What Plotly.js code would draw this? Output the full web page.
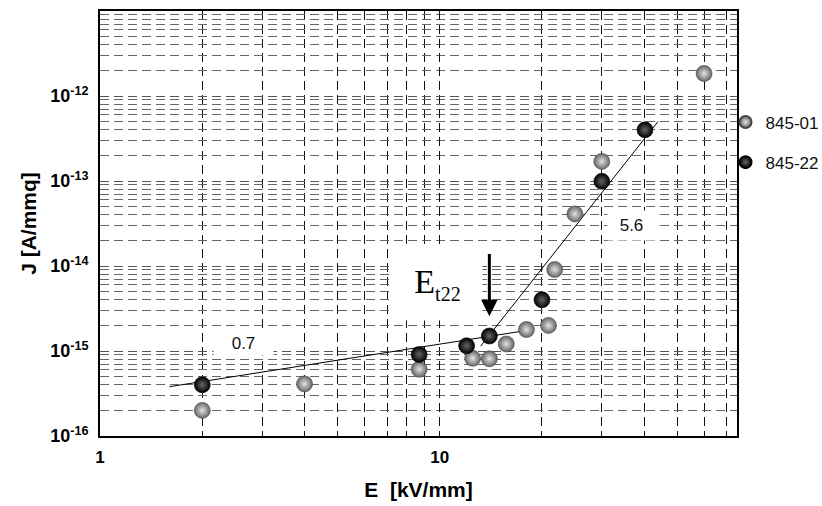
<!DOCTYPE html>
<html>
<head>
<meta charset="utf-8">
<script src="https://cdn.plot.ly/plotly-3.0.1.min.js"></script>
<style>html,body{margin:0;padding:0;background:#fff;}#chart{width:822px;height:506px;}</style>
</head>
<body>
<div id="chart"></div>
<script>
// Series 845-01 (gray spheres)
const e01 = [2, 4, 8.7, 12.5, 14.0, 15.7, 18.0, 20.9, 21.8, 25, 30, 60];
const j01 = [2.0e-16, 4.1e-16, 6.1e-16, 8.2e-16, 8.1e-16, 1.21e-15, 1.79e-15, 2.0e-15, 9.1e-15, 4.1e-14, 1.7e-13, 1.84e-12];
// Series 845-22 (black spheres)
const e22 = [2, 8.7, 12.0, 14.0, 20.0, 30, 40.2];
const j22 = [4.0e-16, 9.1e-16, 1.15e-15, 1.5e-15, 4.0e-15, 9.9e-14, 4.0e-13];
// Fitted lines (slopes 0.7 and 5.6)
const fitLowE = [1.6, 17.3];
const fitLowJ = [3.8e-16, 1.7e-15];
const fitHighE = [13.2, 43.9];
const fitHighJ = [1.14e-15, 5.0e-13];
// Tick labels
const xTickVals = [1, 10];
const xTickText = ['1', '10'];
const yTickVals = [1e-16, 1e-15, 1e-14, 1e-13, 1e-12];
const yTickText = ['10<sup>-16</sup>', '10<sup>-15</sup>', '10<sup>-14</sup>', '10<sup>-13</sup>', '10<sup>-12</sup>'];
// Annotation positions (data values)
const slopeLowLabel = {e: 2.65, j: 1.24e-15, text: '0.7'};
const slopeHighLabel = {e: 36.6, j: 3.0e-14, text: '5.6'};
const etLabel = {e: 9.86, j: 6.2e-15, text: 'E<sub><span style="font-size:20px">t22</span></sub>'};
const arrowE = 14.0, arrowTipJ = 2.56e-15, arrowTailJ = 1.44e-14;

const xMinor = [], yMinor = [];
[1, 10].forEach(d => { for (let k = 2; k <= 9; k++) xMinor.push(k * d); });
for (let p = -16; p <= -12; p++) { for (let k = 2; k <= 9; k++) yMinor.push(k * Math.pow(10, p)); }

const FONT = 'Liberation Sans, Arial, sans-serif';
const L = Math.log10;

const traces = [
  {x: fitLowE, y: fitLowJ, mode: 'lines', line: {color: '#000', width: 1}, showlegend: false, hoverinfo: 'skip'},
  {x: fitHighE, y: fitHighJ, mode: 'lines', line: {color: '#000', width: 1}, showlegend: false, hoverinfo: 'skip'},
  {x: e01, y: j01, mode: 'markers', name: '845-01', legendgroup: 'a',
   marker: {size: 16, color: '#666', gradient: {type: 'radial', color: '#e4e4e4'}, line: {color: '#444', width: 0.6}}},
  {x: e22, y: j22, mode: 'markers', name: '845-22', legendgroup: 'b',
   marker: {size: 16, color: '#000', gradient: {type: 'radial', color: '#666'}, line: {color: '#000', width: 0.6}}}
];

const layout = {
  width: 822, height: 506,
  margin: {l: 100, r: 85, t: 11, b: 70, autoexpand: false},
  paper_bgcolor: '#fff', plot_bgcolor: '#fff',
  font: {family: FONT, color: '#000'},
  showlegend: true,
  legend: {x: 0.982, xanchor: 'left', y: 0.78, yanchor: 'top', font: {size: 17, family: FONT, color: '#111'},
           itemsizing: 'constant', itemwidth: 30, tracegroupgap: 15, bgcolor: 'rgba(0,0,0,0)'},
  xaxis: {
    type: 'log', range: [0, L(75)],
    tickmode: 'array', tickvals: xTickVals, ticktext: xTickText,
    tickfont: {size: 17, family: FONT, weight: 'bold'}, ticks: '', ticklabelstandoff: 5,
    showgrid: true, gridcolor: '#111', gridwidth: 1, griddash: '9px,5px',
    minor: {tickmode: 'array', tickvals: xMinor, showgrid: true, gridcolor: '#111', gridwidth: 1, griddash: '9px,5px', ticks: ''},
    showline: true, linecolor: '#000', linewidth: 2, mirror: true, zeroline: false,
    title: {text: 'E  [kV/mm]', font: {size: 21, family: FONT, weight: 'bold'}, standoff: 16}
  },
  yaxis: {
    type: 'log', range: [-16, -11],
    tickmode: 'array', tickvals: yTickVals, ticktext: yTickText,
    tickfont: {size: 18, family: FONT, weight: 'bold'}, ticks: '', ticklabelstandoff: 6,
    showgrid: true, gridcolor: '#555', gridwidth: 1, griddash: '9px,5px',
    minor: {tickmode: 'array', tickvals: yMinor, showgrid: true, gridcolor: '#666', gridwidth: 1, griddash: '9px,5px', ticks: ''},
    showline: true, linecolor: '#000', linewidth: 2, mirror: true, zeroline: false,
    title: {text: 'J [A/mmq]', font: {size: 21, family: FONT, weight: 'bold'}, standoff: 8}
  },
  annotations: [
    {x: L(slopeLowLabel.e), y: L(slopeLowLabel.j), xref: 'x', yref: 'y', text: slopeLowLabel.text, showarrow: false,
     font: {size: 17, family: FONT, color: '#111'}, bgcolor: '#fff', width: 57, height: 22},
    {x: L(slopeHighLabel.e), y: L(slopeHighLabel.j), xref: 'x', yref: 'y', text: slopeHighLabel.text, showarrow: false,
     font: {size: 17, family: FONT, color: '#111'}, bgcolor: '#fff', width: 45, height: 27},
    {x: L(etLabel.e), y: L(etLabel.j), xref: 'x', yref: 'y', text: etLabel.text, showarrow: false,
     font: {size: 34, family: 'Liberation Serif, Times New Roman, serif', color: '#000'}, bgcolor: '#fff', width: 87, height: 70},
    {x: L(arrowE), y: L(arrowTipJ), ax: L(arrowE), ay: L(arrowTailJ), xref: 'x', yref: 'y', axref: 'x', ayref: 'y',
     text: '', showarrow: true, arrowhead: 2, arrowsize: 1.1, arrowwidth: 3, arrowcolor: '#000', standoff: 0}
  ]
};

Plotly.newPlot('chart', traces, layout, {displayModeBar: false, staticPlot: true});
</script>
</body>
</html>
